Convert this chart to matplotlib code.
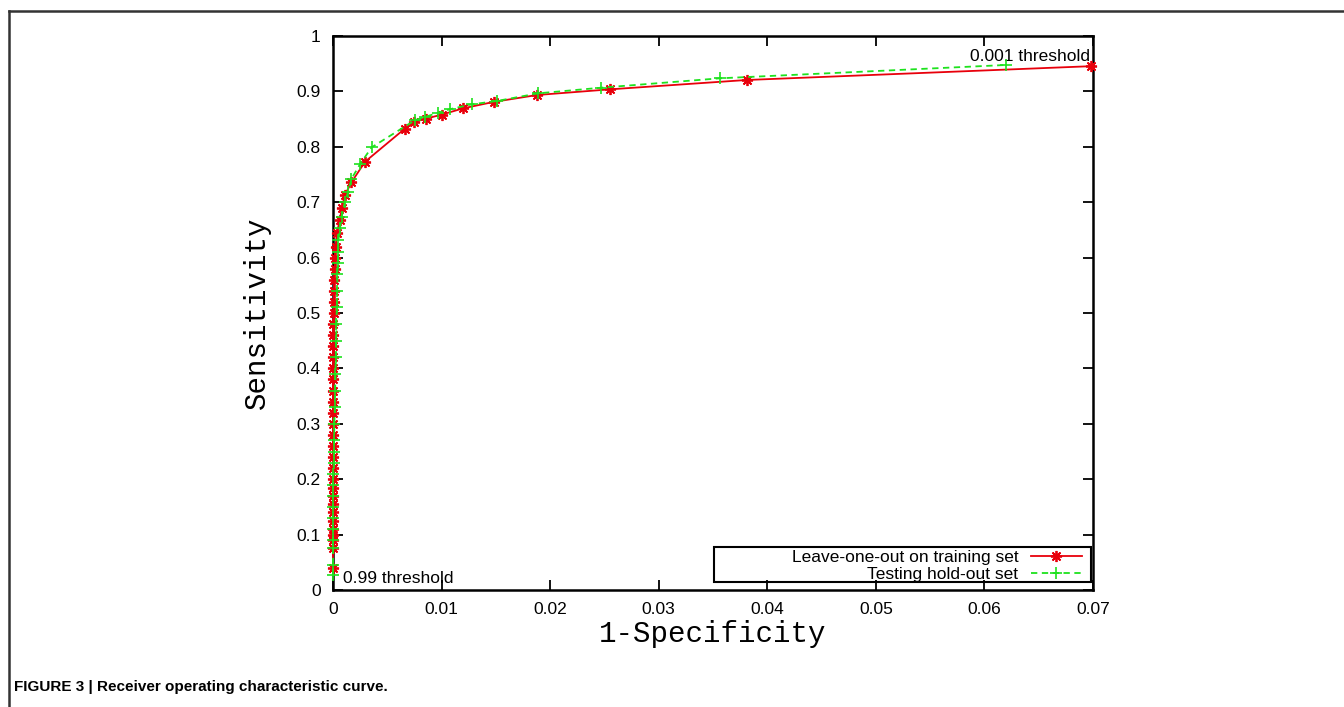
import matplotlib
matplotlib.use('Agg')
import matplotlib.pyplot as plt
from matplotlib.lines import Line2D
from matplotlib.patches import Rectangle

# Dane ROC
fpr_train = [0.0, 0.0, 0.0, 0.0, 0.0, 0.0, 0.0, 0.0, 0.0, 0.0,
             0.0, 0.0, 0.0, 0.0, 0.0, 0.0, 0.0, 0.0, 0.0, 0.00001,
             0.00001, 0.00002, 0.00002, 0.00003, 0.00004, 0.00005, 0.00007, 0.00009, 0.00012, 0.00015,
             0.00019, 0.00025, 0.00034, 0.00064, 0.0008, 0.0011, 0.0017, 0.00295, 0.00663, 0.0075,
             0.0086, 0.0100, 0.0120, 0.0148, 0.0188, 0.0255, 0.0381, 0.0698]
tpr_train = [0.04, 0.075, 0.09, 0.10, 0.11, 0.125, 0.14, 0.155, 0.17, 0.185,
             0.20, 0.22, 0.24, 0.26, 0.28, 0.30, 0.32, 0.34, 0.36, 0.38,
             0.40, 0.42, 0.44, 0.46, 0.48, 0.50, 0.52, 0.54, 0.56, 0.58,
             0.60, 0.62, 0.644, 0.668, 0.689, 0.713, 0.736, 0.773, 0.833, 0.845,
             0.851, 0.858, 0.8695, 0.881, 0.8935, 0.9037, 0.9206, 0.9455]

fpr_test = [0.0, 0.0, 0.0, 0.0, 0.0, 0.0, 0.0, 0.0, 0.00002, 0.00004,
            0.00006, 0.00008, 0.0001, 0.00013, 0.00016, 0.0002, 0.00023, 0.00026, 0.00029, 0.00032,
            0.00035, 0.00038, 0.00041, 0.00044, 0.00047, 0.0005, 0.00064, 0.0008, 0.0011, 0.0014,
            0.0017, 0.0025, 0.00356, 0.00755, 0.0085, 0.0097, 0.0108, 0.0128, 0.0151, 0.0189,
            0.0247, 0.0356, 0.0620]
tpr_test = [0.027, 0.045, 0.075, 0.09, 0.11, 0.13, 0.15, 0.17, 0.19, 0.21,
            0.23, 0.25, 0.27, 0.30, 0.33, 0.36, 0.39, 0.42, 0.45, 0.48,
            0.51, 0.54, 0.57, 0.59, 0.61, 0.632, 0.653, 0.674, 0.701, 0.719,
            0.742, 0.769, 0.799, 0.848, 0.854, 0.8616, 0.868, 0.8767, 0.8827, 0.8965,
            0.9067, 0.9236, 0.9477]

x_ticks = [0, 0.01, 0.02, 0.03, 0.04, 0.05, 0.06, 0.07]
x_tick_labels = ['0', '0.01', '0.02', '0.03', '0.04', '0.05', '0.06', '0.07']
y_ticks = [0, 0.1, 0.2, 0.3, 0.4, 0.5, 0.6, 0.7, 0.8, 0.9, 1.0]
y_tick_labels = ['0', '0.1', '0.2', '0.3', '0.4', '0.5', '0.6', '0.7', '0.8', '0.9', '1']

plt.rcParams['font.family'] = ['Liberation Sans', 'DejaVu Sans']

fig = plt.figure(figsize=(13.44, 7.07), dpi=100)
ax = fig.add_axes([333 / 1344, 1 - 590 / 707, 760 / 1344, 554 / 707])

asterisk = (8, 2, 0)
ax.plot(fpr_train, tpr_train, color='#e8000b', linewidth=1.3, marker=asterisk,
        markersize=8, markeredgewidth=1.3, clip_on=False, zorder=3)
ax.plot(fpr_test, tpr_test, color='#1ee21e', linewidth=1.3, linestyle=(0, (3.5, 2.5)),
        marker='+', markersize=8, markeredgewidth=1.2, clip_on=False, zorder=4)

ax.set_xlim(0, 0.07)
ax.set_ylim(0, 1)
ax.set_xticks(x_ticks)
ax.set_xticklabels(x_tick_labels)
ax.set_yticks(y_ticks)
ax.set_yticklabels(y_tick_labels)
ax.tick_params(direction='in', length=7, width=1.3, top=True, right=True,
               labelsize=12.5, pad=9, colors='black')
for s in ax.spines.values():
    s.set_linewidth(1.8)

ax.set_xlabel('1-Specificity', family='Liberation Mono', fontsize=21, labelpad=2)
ax.set_ylabel('Sensitivity', family='Liberation Mono', fontsize=21, labelpad=18)

ax.text(0.0009, 0.02, '0.99 threshold', fontsize=12.5, va='center', ha='left')
ax.text(0.0697, 0.9627, '0.001 threshold', fontsize=12.5, va='center', ha='right')

# Legenda rysowana ręcznie (ramka jak w gnuplot)
ax.add_patch(Rectangle((0.501, 0.015), 0.496, 0.0625, transform=ax.transAxes,
                       fill=False, edgecolor='black', linewidth=1.5, zorder=5))
leg = ax.legend([Line2D([], [], color='#e8000b', linewidth=1.3, marker=asterisk,
                        markersize=8, markeredgewidth=1.3),
                 Line2D([], [], color='#1ee21e', linewidth=1.3, linestyle=(0, (3.5, 2.5)),
                        marker='+', markersize=8, markeredgewidth=1.2)],
                ['Leave-one-out on training set', 'Testing hold-out set'],
                loc='lower right', bbox_to_anchor=(0.985, 0.015), markerfirst=False,
                frameon=False, fontsize=12.5, handlelength=2.9, handletextpad=0.75,
                labelspacing=0.1, borderpad=0.0, borderaxespad=0.0)

# Ramka strony i podpis
fig.add_artist(Line2D([9 / 1344, 9 / 1344], [0, 1 - 11 / 707], color='#333333',
                      linewidth=1.8, transform=fig.transFigure))
fig.add_artist(Line2D([9 / 1344, 1], [1 - 11 / 707, 1 - 11 / 707], color='#333333',
                      linewidth=1.8, transform=fig.transFigure))
fig.text(14 / 1344, 1 - 687 / 707, 'FIGURE 3 | Receiver operating characteristic curve.',
         fontweight='bold', fontsize=11, va='center', ha='left')

plt.savefig('out.png', dpi=100)
